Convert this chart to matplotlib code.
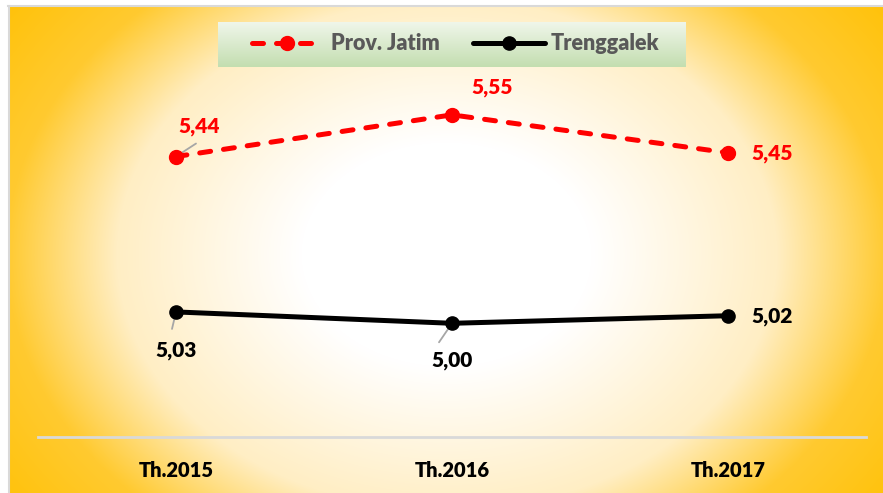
import matplotlib
matplotlib.use('Agg')
import matplotlib.pyplot as plt
import numpy as np

# Data
categories = ['Th.2015', 'Th.2016', 'Th.2017']
jatim = [5.44, 5.55, 5.45]
trenggalek = [5.03, 5.00, 5.02]
jatim_labels = ['5,44', '5,55', '5,45']
trenggalek_labels = ['5,03', '5,00', '5,02']

W, H = 883, 493
FONT = 'Lato'
RED = '#FF0000'
BLACK = '#000000'

fig = plt.figure(figsize=(W / 100, H / 100), dpi=100)
fig.patch.set_facecolor('white')

# Radial gradient background (white centre, gold edges)
bx0, by0 = 8, 6
bg = fig.add_axes([bx0 / W, 0, (W - bx0) / W, (H - by0) / H], zorder=0)
xx, yy = np.meshgrid(np.arange(bx0, W) + 0.5, np.arange(by0, H) + 0.5)
d = np.sqrt(((xx - 447) / 440.0) ** 2 + ((yy - 255) / 340.0) ** 2)
stops = [0.0, 0.33, 0.75, 1.0, 1.3]
r = np.interp(d, stops, [255, 255, 255, 255, 255])
g = np.interp(d, stops, [255, 255, 238, 202, 192])
b = np.interp(d, stops, [255, 255, 196, 48, 0])
img = np.dstack([r, g, b]) / 255.0
bg.imshow(img, aspect='auto', extent=(bx0, W, H, by0), interpolation='bilinear')
bg.set_xlim(bx0, W)
bg.set_ylim(H, by0)
bg.axis('off')
bg.plot([bx0 + 0.5, bx0 + 0.5], [by0, H], color='#D9D9D9', lw=1.5, clip_on=False)
bg.plot([bx0, W], [by0 + 0.5, by0 + 0.5], color='#D9D9D9', lw=1.5, clip_on=False)

# Main plot axes
ax_l, ax_r, ax_t, ax_b = 38, 866, 58, 437
ax = fig.add_axes([ax_l / W, (H - ax_b) / H, (ax_r - ax_l) / W, (ax_b - ax_t) / H], zorder=2)
ax.patch.set_alpha(0)
x = np.arange(len(categories))

ax.plot(x, jatim, color=RED, lw=3.6, linestyle=(0, (2.2, 2.6)),
        dash_capstyle='round', marker='o', markersize=10, markerfacecolor=RED,
        markeredgecolor=RED, label='Prov. Jatim', zorder=3)
ax.plot(x, trenggalek, color=BLACK, lw=3.6, marker='o', markersize=9.5,
        markerfacecolor=BLACK, markeredgecolor=BLACK, label='Trenggalek', zorder=3)

ax.set_xlim(-0.5, 2.5)
ax.set_ylim(4.7, 5.7)
ax.set_xticks(x)
ax.set_xticklabels(categories, fontfamily=FONT, fontweight='heavy', fontsize=14.5, color='black')
ax.set_yticks([])
ax.tick_params(axis='x', length=0, pad=17)
for s in ['top', 'right', 'left']:
    ax.spines[s].set_visible(False)
ax.spines['bottom'].set_color('#D9D9D9')
ax.spines['bottom'].set_linewidth(2)

# Data labels (offsets in pixels)
jatim_offsets = [(23, 30), (40, 27), (44, -1)]
tren_offsets = [(0, -39), (0, -37), (44, -1)]
jatim_leaders = [(20, 13), None, None]
tren_leaders = [(-4, -17), (-13, -19), None]

for xi, yi, lab, off, lead in zip(x, jatim, jatim_labels, jatim_offsets, jatim_leaders):
    if lead is not None:
        ax.annotate('', xy=(xi, yi), xytext=lead, textcoords='offset pixels',
                    arrowprops=dict(arrowstyle='-', color='#A6A6A6', lw=1.3,
                                    shrinkA=0, shrinkB=0), zorder=2)
    ax.annotate(lab, xy=(xi, yi), xytext=off, textcoords='offset pixels',
                ha='center', va='center', fontfamily=FONT, fontweight='heavy',
                fontsize=15, color=RED, zorder=4)

for xi, yi, lab, off, lead in zip(x, trenggalek, trenggalek_labels, tren_offsets, tren_leaders):
    if lead is not None:
        ax.annotate('', xy=(xi, yi), xytext=lead, textcoords='offset pixels',
                    arrowprops=dict(arrowstyle='-', color='#A6A6A6', lw=1.3,
                                    shrinkA=0, shrinkB=0), zorder=2)
    ax.annotate(lab, xy=(xi, yi), xytext=off, textcoords='offset pixels',
                ha='center', va='center', fontfamily=FONT, fontweight='heavy',
                fontsize=15, color=BLACK, zorder=4)

# Legend box with green vertical gradient
lx0, lx1, ly0, ly1 = 218, 686, 22, 67
leg = fig.add_axes([lx0 / W, (H - ly1) / H, (lx1 - lx0) / W, (ly1 - ly0) / H], zorder=3)
top_c = np.array([240, 246, 234]) / 255.0
bot_c = np.array([195, 222, 176]) / 255.0
t = np.linspace(0, 1, 64)[:, None, None]
grad = top_c * (1 - t) + bot_c * t
grad = np.repeat(grad, 2, axis=1)
leg.imshow(grad, aspect='auto', extent=(lx0, lx1, ly1, ly0))
leg.set_xlim(lx0, lx1)
leg.set_ylim(ly1, ly0)
leg.axis('off')
ly = 43
leg.plot([252, 318], [ly, ly], color=RED, lw=3.6, linestyle=(0, (2.2, 2.6)),
         dash_capstyle='round')
leg.plot([287], [ly], marker='o', markersize=10, color=RED)
leg.text(331, ly, 'Prov. Jatim', ha='left', va='center', fontfamily=FONT,
         fontweight='heavy', fontsize=15.5, color='#595959')
leg.plot([473, 545], [ly, ly], color=BLACK, lw=3.6, solid_capstyle='round')
leg.plot([509], [ly], marker='o', markersize=9.5, color=BLACK)
leg.text(551, ly, 'Trenggalek', ha='left', va='center', fontfamily=FONT,
         fontweight='heavy', fontsize=15.5, color='#595959')

fig.savefig('out.png', dpi=100, facecolor='white')
